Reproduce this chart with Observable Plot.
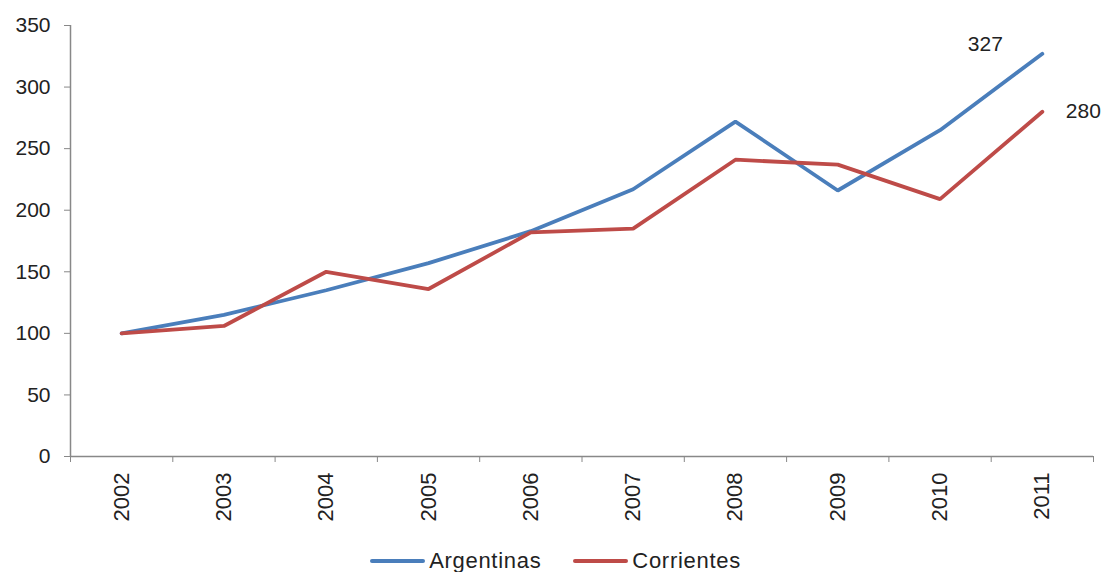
<!DOCTYPE html>
<html>
<head>
<meta charset="utf-8">
<script src="https://cdn.jsdelivr.net/npm/d3@7"></script>
<script src="https://cdn.jsdelivr.net/npm/@observablehq/plot@0.6"></script>
<style>
  html, body { margin: 0; padding: 0; background: #fff; }
  body { width: 1105px; height: 572px; overflow: hidden; position: relative; font-family: "Liberation Sans", Arial, sans-serif; }
  #legend { position: absolute; left: 0; top: 548px; width: 1105px; display: flex; justify-content: center; align-items: center; height: 26px; font-size: 22px; letter-spacing: 0.7px; color: #222; padding-left: 6px; box-sizing: border-box; }
  .item { display: flex; align-items: center; margin: 0 16px; }
  .sw { width: 55px; height: 4px; border-radius: 2px; margin-right: 4px; }
</style>
</head>
<body>
<div id="chart"></div>
<div id="legend"></div>
<script>
const years = [2002, 2003, 2004, 2005, 2006, 2007, 2008, 2009, 2010, 2011];
const argentinas = [100, 115, 135, 157, 183, 217, 272, 216, 265, 327];
const corrientes = [100, 106, 150, 136, 182, 185, 241, 237, 209, 280];
const seriesNames = ["Argentinas", "Corrientes"];
const seriesColors = ["#4a7ebb", "#be4b48"];
const yTicks = [0, 50, 100, 150, 200, 250, 300, 350];

const rows = [];
years.forEach((y, i) => {
  rows.push({year: y, value: argentinas[i], series: seriesNames[0]});
  rows.push({year: y, value: corrientes[i], series: seriesNames[1]});
});
const boundaries = years.map(y => y - 0.5).concat([years[years.length - 1] + 0.5]);
const xMin = boundaries[0], xMax = boundaries[boundaries.length - 1];
const endLabels = [
  {year: years[years.length - 1], value: argentinas[argentinas.length - 1], dx: -57, dy: -10},
  {year: years[years.length - 1], value: corrientes[corrientes.length - 1], dx: 41, dy: 0}
];

const chart = Plot.plot({
  width: 1105,
  height: 540,
  marginLeft: 70,
  marginRight: 12,
  marginTop: 25,
  marginBottom: 84,
  style: {fontFamily: '"Liberation Sans", Arial, sans-serif', background: "#fff"},
  x: {type: "linear", domain: [xMin, xMax]},
  y: {domain: [0, 350]},
  color: {domain: seriesNames, range: seriesColors},
  marks: [
    Plot.axisY(yTicks, {tickSize: 6, tickPadding: 14, fontSize: 21, stroke: "#888", fill: "#222", label: null}),
    Plot.axisX(boundaries, {tickSize: 6, tickFormat: () => "", stroke: "#888", label: null}),
    Plot.axisX(years, {tickSize: 0, tickPadding: 16, tickRotate: -90, fontSize: 22, fill: "#222", tickFormat: d => String(d), label: null}),
    Plot.ruleY([0], {x1: xMin, x2: xMax, stroke: "#888", strokeWidth: 1.5}),
    Plot.ruleX([xMin], {y1: 0, y2: 350, stroke: "#888", strokeWidth: 1.5}),
    Plot.lineY(rows, {x: "year", y: "value", stroke: "series", strokeWidth: 3.8, strokeLinejoin: "miter", strokeLinecap: "round"}),
    ...endLabels.map(d => Plot.text([d], {x: "year", y: "value", text: d => String(d.value), dx: d.dx, dy: d.dy, fontSize: 21, fill: "#222"}))
  ]
});
document.getElementById("chart").appendChild(chart);

const legend = document.getElementById("legend");
seriesNames.forEach((n, i) => {
  const item = document.createElement("div");
  item.className = "item";
  const sw = document.createElement("div");
  sw.className = "sw";
  sw.style.background = seriesColors[i];
  const t = document.createElement("span");
  t.textContent = n;
  item.appendChild(sw);
  item.appendChild(t);
  legend.appendChild(item);
});
</script>
</body>
</html>
